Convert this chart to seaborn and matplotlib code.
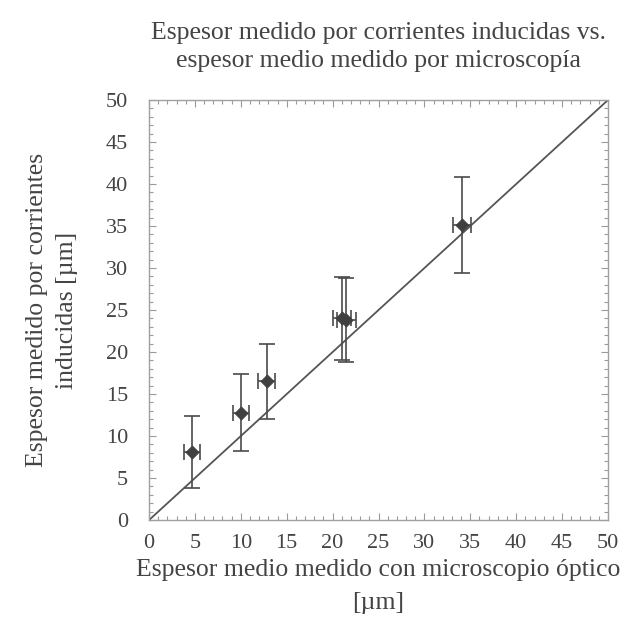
import numpy as np
import pandas as pd
import matplotlib
matplotlib.use("Agg")
import matplotlib.pyplot as plt
import seaborn as sns
from matplotlib.ticker import MultipleLocator

# Thickness measured by optical microscopy (x) vs eddy currents (y), in µm
micro_mean = [4.7, 10.0, 12.8, 21.0, 21.5, 34.1]
micro_err = [0.9, 0.9, 0.9, 1.0, 1.0, 1.0]
eddy_mean = [8.1, 12.8, 16.5, 24.0, 23.8, 35.1]
eddy_err = [4.3, 4.6, 4.5, 4.9, 5.0, 5.7]
ticks = [0, 5, 10, 15, 20, 25, 30, 35, 40, 45, 50]

df = pd.DataFrame({"micro": micro_mean, "eddy": eddy_mean,
                   "xerr": micro_err, "yerr": eddy_err})

sns.set_theme(style="white")
plt.rcParams["font.family"] = ["Liberation Serif", "DejaVu Serif"]

ink = "#444444"
fig = plt.figure(figsize=(6.32, 6.35), dpi=100)
ax = fig.add_axes([0.2358, 0.181, 0.7262, 0.6615])

# 1:1 reference line
ax.plot([0, 50], [0, 50], color="#555555", lw=1.3, zorder=1)

ax.errorbar(df["micro"], df["eddy"], xerr=df["xerr"], yerr=df["yerr"],
            fmt="none", ecolor="#4a4a4a", elinewidth=1.2, capsize=6,
            capthick=1.2, zorder=2)
sns.scatterplot(data=df, x="micro", y="eddy", ax=ax, marker="D", s=45,
                color="#404040", edgecolor="#404040", zorder=3, legend=False)

ax.set_xlim(0, 50)
ax.set_ylim(0, 50)
ax.set_xticks(ticks)
ax.set_yticks(ticks)
ax.xaxis.set_minor_locator(MultipleLocator(1))
ax.yaxis.set_minor_locator(MultipleLocator(1))
ax.tick_params(which="both", direction="in", top=True, right=True,
               bottom=True, left=True, color="#9a9a9a", width=0.8)
ax.tick_params(which="major", length=5)
ax.tick_params(which="minor", length=3)
ax.tick_params(axis="x", which="major", pad=10, labelsize=16, labelcolor=ink)
ax.tick_params(axis="y", which="major", pad=15, labelsize=16, labelcolor=ink)
for s in ax.spines.values():
    s.set_color("#a0a0a0")
    s.set_linewidth(1.0)

ax.set_xlabel("Espesor medio medido con microscopio óptico\n[µm]",
              fontsize=18.5, color=ink, labelpad=4, linespacing=1.7)
ax.set_ylabel("Espesor medido por corrientes\ninducidas [µm]",
              fontsize=18.5, color=ink, labelpad=20, linespacing=1.5)
ax.set_title("Espesor medido por corrientes inducidas vs.\n"
             "espesor medio medido por microscopía",
             fontsize=18.5, color=ink, pad=24, linespacing=1.35)

fig.savefig("out.png", dpi=100, facecolor="white")
